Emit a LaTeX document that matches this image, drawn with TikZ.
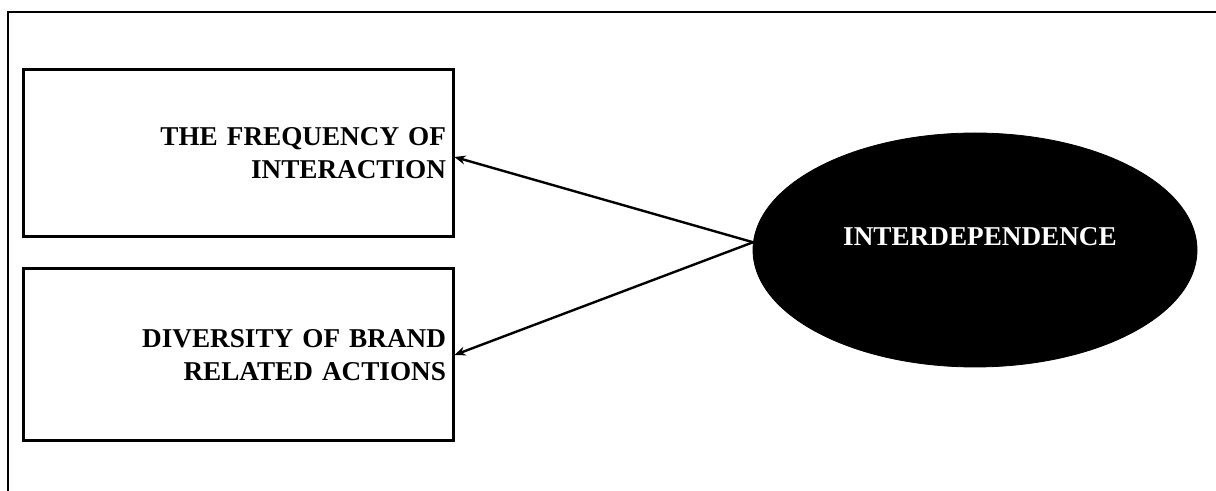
\documentclass[tikz,border=0pt]{standalone}
\usepackage{fontspec}
\setmainfont{Liberation Serif}
\usetikzlibrary{shapes.geometric,arrows.meta}
\newlength{\du}
\setlength{\du}{0.5pt}
\tikzset{
  cbox/.style={draw, line width=1.5pt, rectangle, inner xsep=7\du, inner ysep=0pt,
    text width=416\du, align=right, minimum height=#1, font=\fontsize{13.6}{16.5}\selectfont\bfseries},
  oval/.style={ellipse, fill=black, draw=black, minimum width=444\du, minimum height=234\du, inner sep=0pt},
  link/.style={line width=1.2pt, -{Stealth[length=5.5pt,width=4.5pt]}}
}
\begin{document}
\begin{tikzpicture}[x=\du,y=-\du]
\useasboundingbox (0,0) rectangle (1216,491);
\definecolor{dialinecolor}{rgb}{0.000000, 0.000000, 0.000000}
% frame, cut at right and bottom
\draw[dialinecolor, line width=1pt] (7.5,491)--(7.5,12)--(1216,12);
\node[cbox=167\du] (freq) at (238,153.5){THE FREQUENCY OF\\INTERACTION};
\node[cbox=172\du] (divers) at (238,355){DIVERSITY OF BRAND\\RELATED ACTIONS};
\node[oval] (interd) at (975,250){};
% setfont left to latex
\node[text=white, font=\fontsize{13.6}{16.5}\selectfont\bfseries] (interdtext) at (980,237){INTERDEPENDENCE};
\draw[link] (interd.178)--([yshift=-1.75pt]freq.east);
\draw[link] (interd.178)--(divers.east);
\end{tikzpicture}
\end{document}
